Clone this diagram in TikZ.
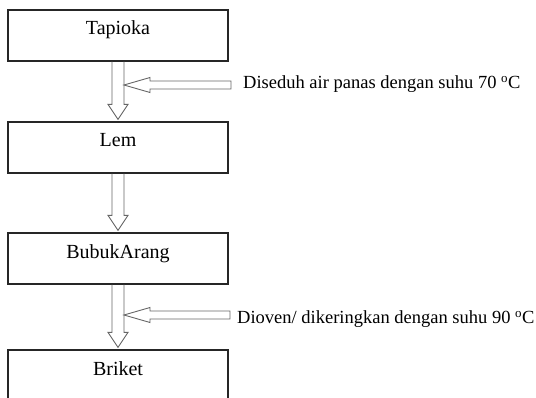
\documentclass[tikz,border=0pt]{standalone}
\usepackage{fontspec}
\setmainfont{Liberation Serif}
\usetikzlibrary{calc}
\tikzset{
  box/.style={draw=black!85, line width=1.2pt, minimum width=220pt, text height=25pt, text depth=26pt, inner ysep=0pt, font=\fontsize{20}{24}\selectfont},
  note/.style={anchor=west, inner sep=3pt, font=\fontsize{18.5}{22}\selectfont},
  hollow/.style={draw=black!60, line width=0.9pt, line join=miter},
}
% hollow arrow from box #1 down to box #2
\newcommand{\downblock}[2]{%
  \draw[hollow] ($(#1.south)+(-6,0)$) -- ($(#2.north)+(-6,17)$) -- ($(#2.north)+(-10,17)$)
    -- ($(#2.north)+(0,2)$) -- ($(#2.north)+(10,17)$) -- ($(#2.north)+(6,17)$) -- ($(#1.south)+(6,0)$);}
% hollow arrow pointing left, tip #1, tail #2
\newcommand{\sideblock}[2]{%
  \draw[hollow] ($(#2)+(0,4)$) -- ($(#1)+(26,4)$) -- ($(#1)+(26,7.5)$) -- (#1)
    -- ($(#1)+(26,-7.5)$) -- ($(#1)+(26,-4)$) -- ($(#2)+(0,-4)$) -- cycle;}
\begin{document}
\begin{tikzpicture}[x=1pt,y=1pt]
\useasboundingbox (0,0) rectangle (536,397);
\clip (0,0) rectangle (536,397);
% Steps
\node[box] (tapioka) at (118,361.5) {Tapioka};
\node[box] (lem) at (118,249.5) {Lem};
\node[box] (bubuk) at (118,138.5) {BubukArang};
\node[box] (briket) at (118,21.5) {Briket};
% Flow
\downblock{tapioka}{lem}
\downblock{lem}{bubuk}
\downblock{bubuk}{briket}
% Treatments
\node[note] (seduh) at (240,313) {Diseduh air panas dengan suhu 70 \textsuperscript{o}C};
\node[note] (oven) at (234,78) {Dioven/ dikeringkan dengan suhu 90 \textsuperscript{o}C};
\coordinate (seduhin) at (124,312);
\coordinate (ovenin) at (124,82);
\coordinate (seduhend) at ($(seduh.west |- seduhin)+(-9,0)$);
\coordinate (ovenend) at ($(oven.west |- ovenin)+(-4,0)$);
\sideblock{seduhin}{seduhend}
\sideblock{ovenin}{ovenend}
\end{tikzpicture}
\end{document}
